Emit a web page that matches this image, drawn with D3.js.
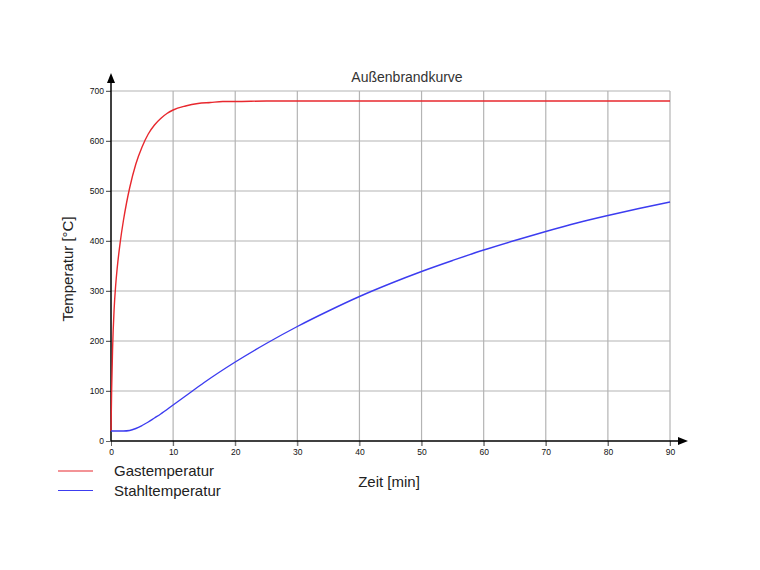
<!DOCTYPE html>
<html>
<head>
<meta charset="utf-8">
<script src="https://cdn.jsdelivr.net/npm/d3@7"></script>
<style>
  body { margin: 0; background: #fff; }
  svg { display: block; font-family: "Liberation Sans", Arial, sans-serif; }
</style>
</head>
<body>
<svg width="760" height="570"></svg>
<script>
// Zeit [min] und Temperaturen
const gasTime = [0, 0.1, 0.25, 0.5, 0.75, 1, 1.5, 2, 2.5, 3, 4, 5, 6, 7, 8, 9, 10, 12, 14, 16, 18, 20, 25, 30, 90];
const gasTemp = [20, 100, 182, 263, 311, 346, 399, 441, 476, 506, 554, 588, 614, 632, 645, 655, 662, 670, 675, 677, 679, 679, 680, 680, 680];

const steelTime = [0, 1, 2, 3, 4, 5, 6, 7, 8, 10, 12, 15, 20, 25, 30, 35, 40, 45, 50, 55, 60, 65, 70, 75, 80, 85, 90];
const steelTemp = [20, 20, 20, 21, 25, 31, 38, 46, 54, 72, 90, 117, 158, 195, 229, 260, 289, 315, 339, 361, 382, 401, 419, 436, 451, 465, 478];

const xTicks = [0, 10, 20, 30, 40, 50, 60, 70, 80, 90];
const yTicks = [0, 100, 200, 300, 400, 500, 600, 700];

const series = [
  { name: "Gastemperatur", color: "#e8282e", t: gasTime, v: gasTemp },
  { name: "Stahltemperatur", color: "#3c3cf0", t: steelTime, v: steelTemp }
];

const svg = d3.select("svg");
const x = d3.scaleLinear().domain([0, 90]).range([111, 670]);
const y = d3.scaleLinear().domain([0, 700]).range([441, 91]);

// Gitter
svg.append("g").selectAll("line").data(xTicks.slice(1)).enter().append("line")
  .attr("x1", d => x(d)).attr("x2", d => x(d))
  .attr("y1", y(700)).attr("y2", y(0) + 5)
  .attr("stroke", "#b4b4b4").attr("stroke-width", 1.2);
svg.append("g").selectAll("line").data(yTicks.slice(1)).enter().append("line")
  .attr("x1", x(0) - 5).attr("x2", x(90))
  .attr("y1", d => y(d)).attr("y2", d => y(d))
  .attr("stroke", "#b4b4b4").attr("stroke-width", 1.2);

// Achsen
const xAxis = svg.append("g").attr("transform", `translate(0,${y(0)})`)
  .call(d3.axisBottom(x).tickValues(xTicks).tickSize(5).tickPadding(3));
const yAxis = svg.append("g").attr("transform", `translate(${x(0)},0)`)
  .call(d3.axisLeft(y).tickValues(yTicks).tickSize(5).tickPadding(2));
[xAxis, yAxis].forEach(a => {
  a.select(".domain").remove();
  a.selectAll("text").attr("font-size", 8.5).attr("fill", "#111")
    .attr("font-family", "'Liberation Sans', Arial, sans-serif");
  a.selectAll(".tick line").attr("stroke", "#666");
});

svg.append("line").attr("x1", x(0)).attr("x2", 679).attr("y1", y(0)).attr("y2", y(0))
  .attr("stroke", "#000").attr("stroke-width", 1.5);
svg.append("line").attr("x1", x(0)).attr("x2", x(0)).attr("y1", y(0)).attr("y2", 82)
  .attr("stroke", "#000").attr("stroke-width", 1.5);
svg.append("path").attr("d", `M678,${y(0) - 4}L688,${y(0)}L678,${y(0) + 4}Z`).attr("fill", "#000");
svg.append("path").attr("d", `M${x(0) - 4},83L${x(0)},73L${x(0) + 4},83Z`).attr("fill", "#000");

// Kurven
const line = d3.line().curve(d3.curveMonotoneX);
series.forEach(s => {
  svg.append("path")
    .attr("d", line(s.t.map((t, i) => [x(t), y(s.v[i])])))
    .attr("fill", "none").attr("stroke", s.color).attr("stroke-width", 1.4);
});

// Texte
svg.append("text").attr("x", 407).attr("y", 82).attr("text-anchor", "middle")
  .attr("font-size", 14).attr("fill", "#333").text("Außenbrandkurve");
svg.append("text").attr("x", 389).attr("y", 487).attr("text-anchor", "middle")
  .attr("font-size", 15).attr("fill", "#222").text("Zeit [min]");
svg.append("text").attr("transform", "translate(73,269) rotate(-90)").attr("text-anchor", "middle")
  .attr("font-size", 15).attr("fill", "#222").text("Temperatur [°C]");

// Legende
const legend = svg.append("g").selectAll("g").data(series).enter().append("g")
  .attr("transform", (d, i) => `translate(0,${471 + i * 19.5})`);
legend.append("line").attr("x1", 58).attr("x2", 93)
  .attr("stroke", d => d.color).attr("stroke-width", 1.2);
legend.append("text").attr("x", 114).attr("y", 5).attr("font-size", 15).attr("fill", "#222")
  .text(d => d.name);
</script>
</body>
</html>
